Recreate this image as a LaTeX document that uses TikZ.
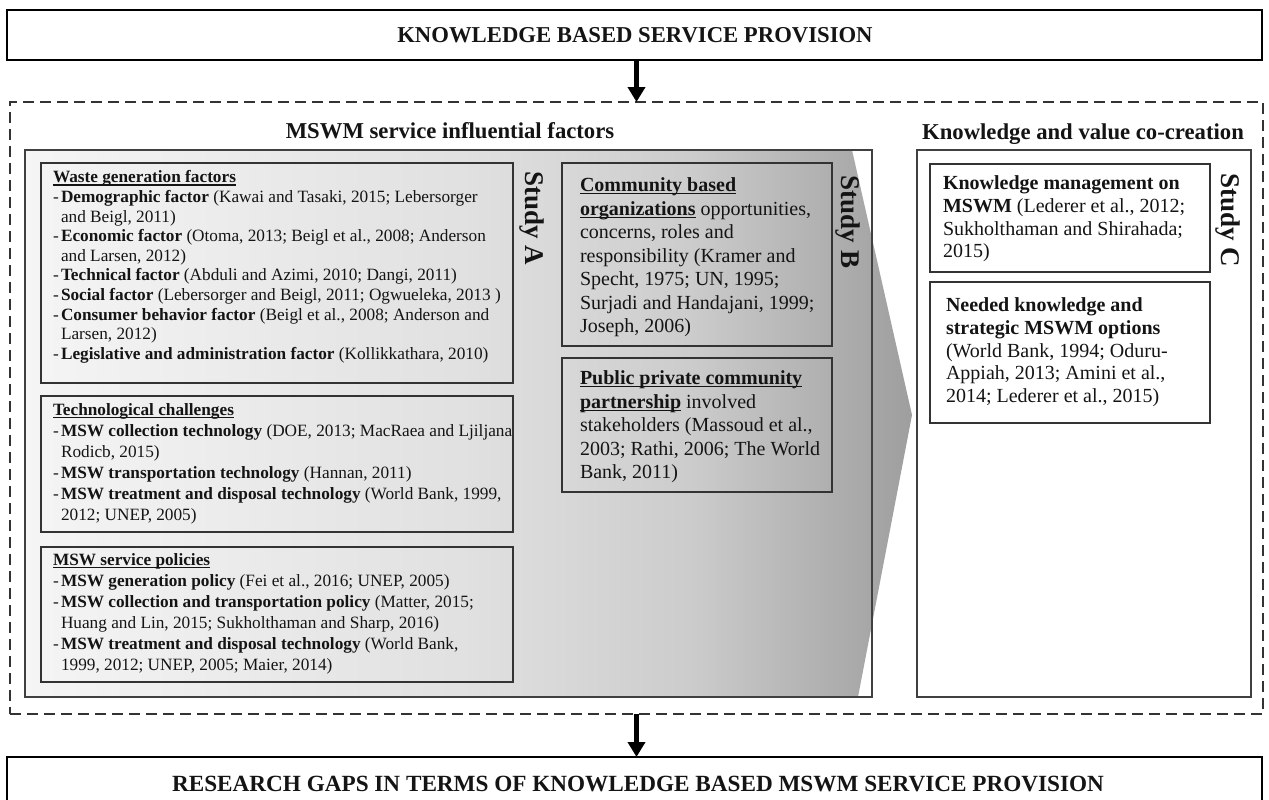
\documentclass[tikz,border=0pt]{standalone}
\usepackage{fontspec}
\setmainfont{Liberation Serif}
\usetikzlibrary{arrows.meta}

% horizontal grey ramp used behind the left panel (light on the left, dark at the arrow tip)
\pgfdeclarehorizontalshading{chevshade}{100bp}{%
  color(0bp)=(black!4); color(25bp)=(black!4); color(50bp)=(black!12);
  color(62.5bp)=(black!20); color(75bp)=(black!38); color(100bp)=(black!38)}

\newcommand\itm{\makebox[8pt][l]{-}}
\newcommand\cnt{\hspace*{8pt}}
% bold heading with a firm underline
\newsavebox\hdbox
\newcommand\hd[1]{\sbox\hdbox{\textbf{#1}}\rlap{\rule[-2.6pt]{\wd\hdbox}{1.1pt}}\usebox\hdbox}

\begin{document}
\begin{tikzpicture}[x=1pt,y=-1pt,
  every node/.style={inner sep=0pt, outer sep=0pt, text=black!92},
  mainbox/.style={draw=black, line width=2pt, anchor=north west},
  dashframe/.style={draw=black!80, line width=2pt, dash pattern=on 11pt off 6pt, anchor=north west},
  panel/.style={draw=black!75, line width=1.5pt, anchor=north west},
  inbox/.style={draw=black!80, line width=1.5pt, anchor=north west},
  ttl/.style={font=\fontsize{22.7}{26}\selectfont\bfseries, anchor=base},
  txtA/.style={font=\fontsize{17.25}{19.6}\selectfont, align=left, anchor=north west},
  txtAA/.style={font=\fontsize{17.25}{20.9}\selectfont, align=left, anchor=north west},
  txtB/.style={font=\fontsize{20}{23.5}\selectfont, align=left, anchor=north west},
  txtC/.style={font=\fontsize{20}{22.7}\selectfont, align=left, anchor=north west},
  study/.style={font=\fontsize{27}{30}\selectfont\bfseries, rotate=-90},
  bigarrow/.style={line width=5pt, draw=black, -{Triangle[width=17pt,length=15pt]}}
]
\useasboundingbox (0,0) rectangle (1269,800);
\fill[white] (0,0) rectangle (1269,800);

% top and bottom banners
\node[mainbox, minimum width=1255pt, minimum height=50pt] (kbsp) at (7,10) {};
\node[ttl] (kbspt) at (635,42.5) {KNOWLEDGE BASED SERVICE PROVISION};

\node[dashframe, minimum width=1253pt, minimum height=612pt] (dfr) at (10,102) {};

\node[mainbox, minimum width=1255pt, minimum height=60pt] (gaps) at (7,757) {};
\node[ttl, font=\fontsize{23.2}{26}\selectfont\bfseries] (gapst) at (638,791.5) {RESEARCH GAPS IN TERMS OF KNOWLEDGE BASED MSWM SERVICE PROVISION};

% arrows between the three stages
\draw[bigarrow] (dfr.north |- kbsp.south) -- (dfr.north);
\draw[bigarrow] (dfr.south) -- (dfr.south |- gaps.north);

% section titles
\node[ttl] (inflt) at (450,138.5) {MSWM service influential factors};
\node[ttl] (kvct) at (1083,139.5) {Knowledge and value co-creation};

% shaded chevron behind the left panel
\shade[shading=chevshade] (25,150) -- (852,150) -- (912,415) -- (858,697) -- (25,697) -- cycle;
\node[panel, minimum width=847pt, minimum height=547pt] (infl) at (25,150) {};
\node[panel, fill=white, minimum width=334pt, minimum height=547pt] (kvc) at (917,150) {};

% study A boxes
\node[inbox, minimum width=472pt, minimum height=220pt] (wgf) at (41,163) {};
\node[txtA] (wgft) at (53,170.8) {%
\hd{Waste generation factors}\\
\itm\textbf{Demographic factor} (Kawai and Tasaki, 2015; Lebersorger\\
\cnt and Beigl, 2011)\\
\itm\textbf{Economic factor} (Otoma, 2013; Beigl et al., 2008; Anderson\\
\cnt and Larsen, 2012)\\
\itm\textbf{Technical factor} (Abduli and Azimi, 2010; Dangi, 2011)\\
\itm\textbf{Social factor} (Lebersorger and Beigl, 2011; Ogwueleka, 2013 )\\
\itm\textbf{Consumer behavior factor} (Beigl et al., 2008; Anderson and\\
\cnt Larsen, 2012)\\
\itm\textbf{Legislative and administration factor} (Kollikkathara, 2010)};

\node[inbox, minimum width=472pt, minimum height=136pt] (tch) at (41,396) {};
\node[txtAA] (tcht) at (53,403.8) {%
\hd{Technological challenges}\\
\itm\textbf{MSW collection technology} (DOE, 2013; MacRaea and Ljiljana\\
\cnt Rodicb, 2015)\\
\itm\textbf{MSW transportation technology} (Hannan, 2011)\\
\itm\textbf{MSW treatment and disposal technology} (World Bank, 1999,\\
\cnt 2012; UNEP, 2005)};

\node[inbox, minimum width=472pt, minimum height=135pt] (pol) at (41,547) {};
\node[txtAA] (polt) at (53,553.8) {%
\hd{MSW service policies}\\
\itm\textbf{MSW generation policy} (Fei et al., 2016; UNEP, 2005)\\
\itm\textbf{MSW collection and transportation policy} (Matter, 2015;\\
\cnt Huang and Lin, 2015; Sukholthaman and Sharp, 2016)\\
\itm\textbf{MSW treatment and disposal technology} (World Bank,\\
\cnt 1999, 2012; UNEP, 2005; Maier, 2014)};

\node[study] (sa) at (532,218) {Study A};

% study B boxes
\node[inbox, minimum width=270pt, minimum height=183pt] (cbo) at (562,163) {};
\node[txtB] (cbot) at (580,177.8) {%
\hd{Community based}\\
\hd{organizations} opportunities,\\
concerns, roles and\\
responsibility (Kramer and\\
Specht, 1975; UN, 1995;\\
Surjadi and Handajani, 1999;\\
Joseph, 2006)};

\node[inbox, minimum width=270pt, minimum height=134pt] (ppp) at (562,358) {};
\node[txtB] (pppt) at (580,370.8) {%
\hd{Public private community}\\
\hd{partnership} involved\\
stakeholders (Massoud et al.,\\
2003; Rathi, 2006; The World\\
Bank, 2011)};

\node[study] (sb) at (848,222) {Study B};

% study C boxes
\node[inbox, minimum width=280pt, minimum height=108pt] (kmm) at (930,164) {};
\node[txtC] (kmmt) at (943,175.8) {%
\textbf{Knowledge management on}\\
\textbf{MSWM} (Lederer et al., 2012;\\
Sukholthaman and Shirahada;\\
2015)};

\node[inbox, minimum width=280pt, minimum height=141pt] (nko) at (930,282) {};
\node[txtC] (nkot) at (946,297.8) {%
\textbf{Needed knowledge and}\\
\textbf{strategic MSWM options}\\
(World Bank, 1994; Oduru-\\
Appiah, 2013; Amini et al.,\\
2014; Lederer et al., 2015)};

\node[study] (sc) at (1228,220) {Study C};
\end{tikzpicture}
\end{document}
